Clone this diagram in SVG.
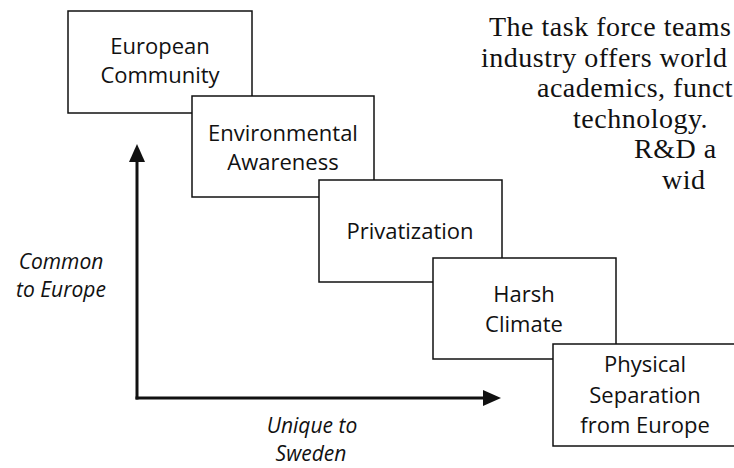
<svg xmlns="http://www.w3.org/2000/svg" width="734" height="468" viewBox="0 0 734 468">
  <style>
    .box { fill: #ffffff; stroke: #111111; stroke-width: 1.5; }
    .lbl { font-family: "Open Sans", "Noto Sans", "DejaVu Sans", sans-serif; font-size: 22px; fill: #111111; text-anchor: middle; }
    .ax { font-family: "Open Sans", "Noto Sans", "DejaVu Sans", sans-serif; font-size: 21px; font-style: italic; fill: #111111; text-anchor: middle; }
    .para { font-family: "Liberation Serif", "Times New Roman", serif; font-size: 28px; letter-spacing: 0.5px; fill: #111111; }
    .axis { stroke: #111111; stroke-width: 3; fill: none; }
  </style>
  <defs>
    <marker id="arrow" markerUnits="userSpaceOnUse" markerWidth="18" markerHeight="16" refX="2" refY="8" orient="auto" viewBox="0 0 18 16">
      <path d="M0,0 L18,8 L0,16 z" fill="#111111"/>
    </marker>
  </defs>
  <rect width="734" height="468" fill="#ffffff"/>

  <g id="connectors">
    <line class="axis" x1="137" y1="399.5" x2="137" y2="160" marker-end="url(#arrow)"/>
    <line class="axis" x1="135.5" y1="398" x2="485" y2="398" marker-end="url(#arrow)"/>
  </g>

  <g id="node-european-community">
    <rect class="box" x="68" y="11" width="184" height="102"/>
    <text class="lbl" x="160" y="54">European</text>
    <text class="lbl" x="160" y="83">Community</text>
  </g>
  <g id="node-environmental-awareness">
    <rect class="box" x="192" y="96" width="182" height="101"/>
    <text class="lbl" x="283" y="141">Environmental</text>
    <text class="lbl" x="283" y="170">Awareness</text>
  </g>
  <g id="node-privatization">
    <rect class="box" x="319" y="180" width="183" height="102"/>
    <text class="lbl" x="410" y="239">Privatization</text>
  </g>
  <g id="node-harsh-climate">
    <rect class="box" x="433" y="258" width="183" height="101"/>
    <text class="lbl" x="524" y="302">Harsh</text>
    <text class="lbl" x="524" y="332">Climate</text>
  </g>
  <g id="node-physical-separation">
    <rect class="box" x="553" y="344" width="184" height="102"/>
    <text class="lbl" x="645" y="372">Physical</text>
    <text class="lbl" x="645" y="403">Separation</text>
    <text class="lbl" x="645" y="433">from Europe</text>
  </g>

  <g id="axis-labels">
    <text class="ax" x="61" y="269">Common</text>
    <text class="ax" x="61" y="297">to Europe</text>
    <text class="ax" x="312" y="433">Unique to</text>
    <text class="ax" x="311" y="461">Sweden</text>
  </g>

  <g id="paragraph">
    <text class="para" x="489" y="36">The task force teams</text>
    <text class="para" x="481" y="66.5">industry offers world</text>
    <text class="para" x="537" y="97" letter-spacing="0">academics, funct</text>
    <text class="para" x="573" y="127.5">technology.</text>
    <text class="para" x="634" y="158">R&amp;D a</text>
    <text class="para" x="662" y="188.5">wid</text>
  </g>
</svg>
